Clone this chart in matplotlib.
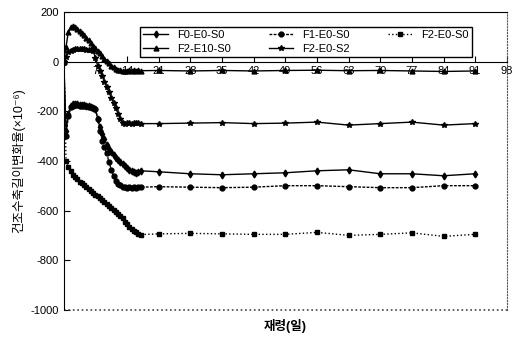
import matplotlib
matplotlib.use("Agg")
import matplotlib.pyplot as plt

plt.rcParams['font.family'] = ['Liberation Sans', 'Noto Sans CJK KR', 'DejaVu Sans']
plt.rcParams['axes.unicode_minus'] = False

# measurement ages (days): dense early readings, then weekly
days = [0, 0.5, 1, 1.5, 2, 2.5, 3, 3.5, 4, 4.5, 5, 5.5, 6, 6.5, 7, 7.5, 8, 8.5,
        9, 9.5, 10, 10.5, 11, 11.5, 12, 12.5, 13, 13.5, 14, 14.5, 15, 15.5, 16,
        16.5, 17, 21, 28, 35, 42, 49, 56, 63, 70, 77, 84, 91]

f0_e0_s0 = [0, -280, -210, -180, -172, -170, -172, -174, -175, -176, -178, -180,
            -182, -186, -192, -230, -265, -290, -312, -335, -352, -366, -378,
            -388, -398, -405, -412, -420, -428, -435, -440, -445, -448, -446,
            -440, -444, -452, -456, -452, -448, -440, -436, -452, -452, -460, -452]

f1_e0_s0 = [0, -300, -220, -185, -178, -176, -177, -178, -179, -180, -181, -182,
            -184, -187, -192, -230, -280, -320, -345, -370, -405, -435, -460,
            -480, -492, -498, -504, -506, -508, -505, -510, -506, -508, -505,
            -506, -504, -506, -508, -506, -500, -500, -504, -508, -508, -500, -500]

f2_e0_s0 = [0, -400, -425, -440, -455, -465, -475, -484, -490, -497, -505, -512,
            -520, -528, -536, -543, -550, -557, -565, -573, -580, -590, -598,
            -607, -615, -623, -632, -645, -656, -666, -675, -683, -688, -694,
            -697, -694, -692, -694, -696, -696, -688, -700, -696, -690, -704, -696]

f2_e10_s0 = [0, 60, 120, 138, 144, 140, 132, 124, 114, 106, 96, 86, 76, 64, 54,
             44, 34, 24, 12, 4, -6, -16, -24, -30, -34, -36, -38, -37, -38, -36,
             -37, -36, -38, -36, -37, -36, -38, -36, -38, -36, -35, -37, -36,
             -38, -40, -38]

f2_e0_s2 = [0, 20, 38, 44, 48, 50, 50, 50, 49, 49, 48, 47, 45, 42, 15, -17, -38,
            -60, -81, -103, -124, -146, -167, -189, -210, -232, -246, -250, -248,
            -246, -250, -248, -246, -248, -250, -250, -248, -246, -250, -248,
            -244, -256, -250, -244, -256, -250]

x_ticks = [7, 14, 21, 28, 35, 42, 49, 56, 63, 70, 77, 84, 91, 98]
y_ticks = [-1000, -800, -600, -400, -200, 0, 200]

fig = plt.figure(figsize=(5.23, 3.39), dpi=100)
ax = fig.add_axes([0.122, 0.086, 0.847, 0.879])

l1, = ax.plot(days, f0_e0_s0, color='black', lw=1.0, ls='-', marker='d', ms=3.5, label='F0-E0-S0')
l2, = ax.plot(days, f1_e0_s0, color='black', lw=1.0, ls=(0, (2, 1)), marker='o', ms=3.5, label='F1-E0-S0')
l3, = ax.plot(days, f2_e0_s0, color='black', lw=1.0, ls=':', marker='s', ms=3.0, label='F2-E0-S0')
l4, = ax.plot(days, f2_e10_s0, color='black', lw=1.0, ls='-', marker='^', ms=3.5, label='F2-E10-S0')
l5, = ax.plot(days, f2_e0_s2, color='black', lw=1.0, ls='-', marker='*', ms=4.0, label='F2-E0-S2')

ax.set_xlim(0, 98)
ax.set_ylim(-1000, 200)
ax.set_xticks(x_ticks)
ax.set_yticks(y_ticks)
ax.tick_params(direction='in', labelsize=8, length=4, width=0.8)

ax.spines['bottom'].set_position(('data', 0))
ax.spines['right'].set_linestyle(':')
ax.spines['right'].set_color('#555555')
ax.axhline(-1000, color='#444444', lw=1.2, ls=':', clip_on=False)

ax.set_ylabel('건조수축길이변화율(×10⁻⁶)', fontsize=9)
ax.text(0.5, -0.03, '재령(일)', transform=ax.transAxes, ha='center', va='top',
        fontsize=9, fontweight='bold')

# row-wise order in a 3-column legend
handles = [l1, l4, l2, l5, l3]
ax.legend(handles, [h.get_label() for h in handles], ncol=3, loc='lower left',
          bbox_to_anchor=(0.172, 0.849, 0.749, 0.131),
          mode='expand', fontsize=8, frameon=True, fancybox=False, edgecolor='black',
          framealpha=1, borderaxespad=0, handlelength=2.2, columnspacing=1.0,
          labelspacing=0.3, borderpad=0.3)

fig.savefig('out.png', dpi=100)
